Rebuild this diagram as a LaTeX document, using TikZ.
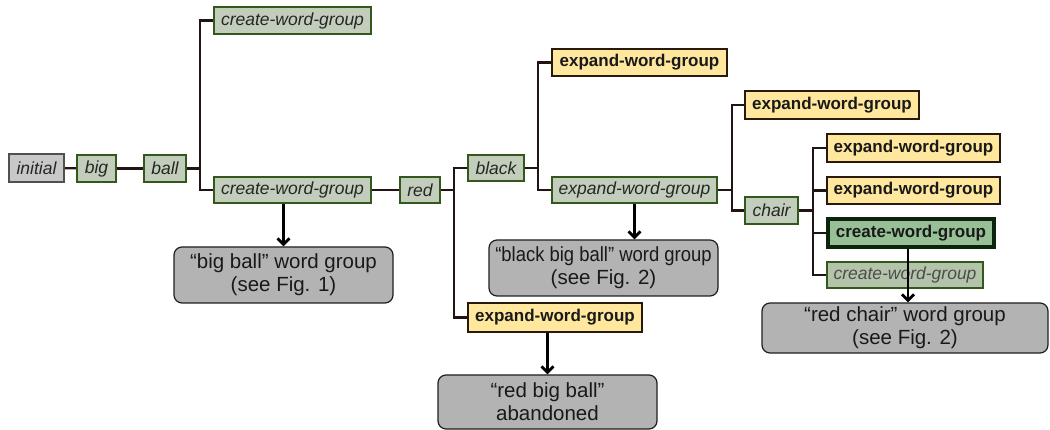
\documentclass[tikz,border=0pt]{standalone}
\usepackage{fontspec}
\setmainfont{Liberation Sans}
\usetikzlibrary{arrows.meta,calc}
\definecolor{gfill}{RGB}{195,205,187}
\definecolor{gline}{RGB}{50,88,30}
\definecolor{yfill}{RGB}{255,231,158}
\definecolor{yline}{RGB}{40,25,10}
\definecolor{bfill}{RGB}{179,179,179}
\definecolor{bline}{RGB}{30,30,30}
\definecolor{ifill}{RGB}{200,200,200}
\definecolor{iline}{RGB}{80,80,80}
\definecolor{dgfill}{RGB}{152,192,150}
\definecolor{dgline}{RGB}{12,35,12}
\definecolor{lgfill}{RGB}{180,196,170}
\definecolor{conn}{RGB}{35,20,20}
\tikzset{
  base/.style={inner sep=0pt, anchor=center},
  gnode/.style={base, draw=gline, line width=1.8pt, fill=gfill, font=\fontsize{17.5}{19}\selectfont\itshape, text=black!85},
  ynode/.style={base, draw=yline, line width=1.5pt, fill=yfill, font=\fontsize{17}{19}\selectfont\bfseries, text=black!90},
  inode/.style={base, draw=iline, line width=2pt, fill=ifill, font=\fontsize{17.5}{19}\selectfont\itshape, text=black!85},
  dgnode/.style={base, draw=dgline, line width=3.8pt, fill=dgfill, font=\fontsize{17}{19}\selectfont\bfseries, text=black!90},
  lgnode/.style={base, draw=gline, line width=1.8pt, fill=lgfill, font=\fontsize{17.5}{19}\selectfont\itshape, text=black!70},
  result/.style={base, draw=bline, line width=1.2pt, fill=bfill, rounded corners=8pt, align=center, font=\fontsize{20.5}{23}\selectfont, text=black!90},
  link/.style={draw=conn, line width=2.2pt},
  arr/.style={draw=black, line width=2.8pt, -{Straight Barb[length=6pt,width=12pt,line width=2.8pt]}}
}
\begin{document}
\begin{tikzpicture}[x=1pt,y=-1pt]
\useasboundingbox (0,0) rectangle (1050,430);
% nodes
\node[inode, minimum width=55pt, minimum height=28pt] (init) at (36.5,168) {initial};
\node[gnode, minimum width=39pt, minimum height=27pt] (big) at (96.5,168.5) {big};
\node[gnode, minimum width=42pt, minimum height=27pt] (ball) at (165,168.5) {ball};
\node[gnode, minimum width=157pt, minimum height=27pt] (cwgA) at (292.5,20.5) {create-word-group};
\node[gnode, minimum width=157pt, minimum height=26pt] (cwgB) at (292.5,190) {create-word-group};
\node[gnode, minimum width=40pt, minimum height=26pt] (red) at (420,190) {red};
\node[gnode, minimum width=56pt, minimum height=26pt] (black) at (496,168) {black};
\node[ynode, minimum width=175pt, minimum height=27pt] (exA) at (639.5,62.5) {expand-word-group};
\node[gnode, minimum width=165pt, minimum height=26pt] (exB) at (634.5,190) {expand-word-group};
\node[ynode, minimum width=174pt, minimum height=28pt] (exC) at (832,105) {expand-word-group};
\node[gnode, minimum width=53pt, minimum height=27pt] (chair) at (771.5,210.5) {chair};
\node[ynode, minimum width=173pt, minimum height=28pt] (exD) at (913.5,148) {expand-word-group};
\node[ynode, minimum width=173pt, minimum height=27pt] (exE) at (913.5,190.5) {expand-word-group};
\node[dgnode, minimum width=166pt, minimum height=28pt] (cwC) at (911,233) {create-word-group};
\node[lgnode, minimum width=156pt, minimum height=26pt] (cwD) at (905,275) {create-word-group};
\node[ynode, minimum width=174pt, minimum height=29pt] (exF) at (555,317.5) {expand-word-group};
\node[result, minimum width=219pt, minimum height=56pt] (bbb) at (283.5,275) {“big ball” word group\\(see Fig. 1)};
\node[result, minimum width=229pt, minimum height=56pt] (blackbb) at (603.5,268) {\scalebox{0.9}[1]{“black big ball” word group}\\(see Fig. 2)};
\node[result, minimum width=286pt, minimum height=50pt] (redchair) at (905,328) {“red chair” word group\\(see Fig. 2)};
\node[result, minimum width=219pt, minimum height=54pt] (redbb) at (547.5,402) {“red big ball”\\abandoned};
% branch points
\coordinate (j1) at (200,168.5);
\coordinate (j2) at (454,190);
\coordinate (j3) at (538,168);
\coordinate (j4) at (732,190);
\coordinate (j5) at (813,210.5);
% connectors
\draw[link] (init) -- (big);
\draw[link] (big) -- (ball);
\draw[link] (ball) -- (j1);
\draw[link] (j1) |- (cwgA);
\draw[link] (j1) |- (cwgB);
\draw[link] (cwgB) -- (red);
\draw[link] (red) -- (j2);
\draw[link] (j2) |- (black);
\draw[link] (j2) |- (exF);
\draw[link] (black) -- (j3);
\draw[link] (j3) |- (exA);
\draw[link] (j3) |- (exB);
\draw[link] (exB) -- (j4);
\draw[link] (j4) |- (exC);
\draw[link] (j4) |- (chair);
\draw[link] (chair) -- (j5);
\draw[link] (j5) |- (exD);
\draw[link] (j5) |- (exE);
\draw[link] (j5) |- (cwC);
\draw[link] (j5) |- (cwD);
% arrows
\draw[arr] (bbb.north |- cwgB.south) -- (bbb.north);
\draw[arr] (exB.south) -- (exB.south |- blackbb.north);
\draw[arr] (redbb.north |- exF.south) -- (redbb.north);
\draw[arr] ([xshift=-3pt]cwC.south) -- ([xshift=-3pt]cwC.south |- redchair.north);
\end{tikzpicture}
\end{document}
